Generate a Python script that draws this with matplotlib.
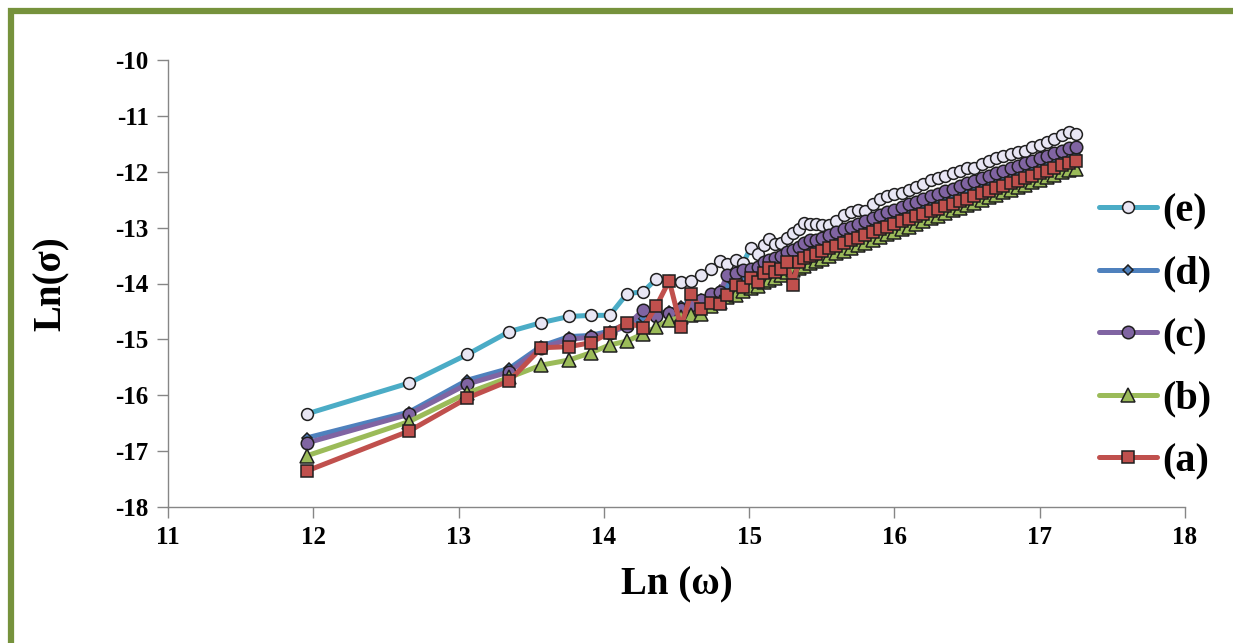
import matplotlib
matplotlib.use("Agg")
import matplotlib.pyplot as plt
from matplotlib.patches import Rectangle

# Ln(omega) values shared by all samples
ln_omega = [
    11.96, 12.66, 13.06, 13.35, 13.57, 13.76, 13.91, 14.04, 14.16, 14.27,
    14.36, 14.45, 14.53, 14.60, 14.67, 14.74, 14.80, 14.85, 14.91, 14.96,
    15.01, 15.06, 15.10, 15.14, 15.18, 15.22, 15.26, 15.30, 15.34, 15.38,
    15.42, 15.46, 15.50, 15.55, 15.60, 15.65, 15.70, 15.75, 15.80, 15.85,
    15.90, 15.95, 16.00, 16.05, 16.10, 16.15, 16.20, 16.25, 16.30, 16.35,
    16.40, 16.45, 16.50, 16.55, 16.60, 16.65, 16.70, 16.75, 16.80, 16.85,
    16.90, 16.95, 17.00, 17.05, 17.10, 17.15, 17.20, 17.25,
]

# Ln(sigma) per sample
sigma_e = [
    -16.33, -15.78, -15.27, -14.86, -14.70, -14.59, -14.57, -14.57, -14.18, -14.15,
    -13.92, -13.95, -13.97, -13.96, -13.85, -13.74, -13.60, -13.65, -13.58, -13.63,
    -13.36, -13.48, -13.31, -13.20, -13.30, -13.28, -13.18, -13.10, -13.02, -12.92,
    -12.93, -12.93, -12.95, -12.95, -12.88, -12.78, -12.72, -12.68, -12.70, -12.57,
    -12.48, -12.43, -12.40, -12.38, -12.32, -12.28, -12.22, -12.15, -12.12, -12.08,
    -12.03, -11.98, -11.94, -11.93, -11.86, -11.80, -11.76, -11.72, -11.68, -11.64,
    -11.62, -11.56, -11.52, -11.47, -11.42, -11.35, -11.28, -11.32,
]
sigma_d = [
    -16.76, -16.30, -15.73, -15.52, -15.12, -14.95, -14.93, -14.85, -14.72, -14.62,
    -14.55, -14.50, -14.40, -14.32, -14.28, -14.20, -14.12, -14.05, -13.98, -13.92,
    -13.86, -13.82, -13.76, -13.72, -13.68, -13.63, -13.58, -13.54, -13.50, -13.46,
    -13.42, -13.38, -13.34, -13.29, -13.24, -13.19, -13.14, -13.09, -13.05, -12.99,
    -12.94, -12.90, -12.84, -12.79, -12.75, -12.70, -12.66, -12.61, -12.57, -12.52,
    -12.47, -12.43, -12.38, -12.35, -12.29, -12.25, -12.20, -12.16, -12.12, -12.07,
    -12.02, -11.98, -11.93, -11.89, -11.84, -11.79, -11.74, -11.70,
]
sigma_c = [
    -16.85, -16.34, -15.80, -15.58, -15.15, -15.00, -14.96, -14.88, -14.76, -14.47,
    -14.58, -14.52, -14.45, -14.38, -14.30, -14.18, -14.15, -13.85, -13.82, -13.76,
    -13.74, -13.70, -13.62, -13.58, -13.55, -13.50, -13.44, -13.40, -13.34, -13.28,
    -13.22, -13.22, -13.18, -13.14, -13.08, -13.03, -12.98, -12.93, -12.88, -12.83,
    -12.77, -12.72, -12.68, -12.63, -12.58, -12.54, -12.49, -12.44, -12.40, -12.35,
    -12.30, -12.26, -12.21, -12.17, -12.12, -12.08, -12.03, -11.99, -11.94, -11.90,
    -11.85, -11.81, -11.76, -11.72, -11.67, -11.62, -11.57, -11.55,
]
sigma_b = [
    -17.08, -16.47, -15.96, -15.68, -15.46, -15.37, -15.24, -15.10, -15.03, -14.90,
    -14.78, -14.66, -14.60, -14.56, -14.55, -14.40, -14.34, -14.25, -14.20, -14.14,
    -14.08, -14.04, -13.98, -13.94, -13.90, -13.85, -13.80, -13.76, -13.72, -13.68,
    -13.64, -13.60, -13.56, -13.51, -13.46, -13.41, -13.36, -13.31, -13.27, -13.22,
    -13.17, -13.12, -13.07, -13.02, -12.98, -12.93, -12.88, -12.83, -12.79, -12.74,
    -12.69, -12.65, -12.60, -12.56, -12.51, -12.46, -12.42, -12.37, -12.33, -12.28,
    -12.24, -12.19, -12.15, -12.10, -12.06, -12.01, -11.97, -11.95,
]
sigma_a = [
    -17.35, -16.64, -16.05, -15.74, -15.15, -15.13, -15.06, -14.88, -14.70, -14.79,
    -14.41, -13.95, -14.78, -14.18, -14.46, -14.35, -14.37, -14.20, -14.03, -14.06,
    -13.90, -13.97, -13.81, -13.72, -13.80, -13.74, -13.62, -14.02, -13.62, -13.55,
    -13.50, -13.48, -13.42, -13.36, -13.33, -13.27, -13.22, -13.18, -13.14, -13.08,
    -13.03, -12.98, -12.94, -12.89, -12.85, -12.80, -12.75, -12.70, -12.66, -12.61,
    -12.57, -12.52, -12.48, -12.43, -12.38, -12.34, -12.29, -12.25, -12.20, -12.16,
    -12.11, -12.07, -12.02, -11.98, -11.93, -11.88, -11.84, -11.80,
]

labels = ["(e)", "(d)", "(c)", "(b)", "(a)"]
series = [sigma_e, sigma_d, sigma_c, sigma_b, sigma_a]
line_colors = ["#4bacc6", "#4f81bd", "#8064a2", "#9bbb59", "#c0504d"]
face_colors = ["#e8e6f4", "#4f81bd", "#8064a2", "#9bbb59", "#c0504d"]
markers = ["o", "D", "o", "^", "s"]
msizes = [8.5, 5, 9, 9.5, 8.5]

x_ticks = [11, 12, 13, 14, 15, 16, 17, 18]
y_ticks = [-18, -17, -16, -15, -14, -13, -12, -11, -10]

plt.rcParams["font.family"] = ["Liberation Serif", "DejaVu Serif"]
plt.rcParams["font.weight"] = "bold"
plt.rcParams["axes.unicode_minus"] = False

fig = plt.figure(figsize=(12.33, 6.43), dpi=100)
fig.patch.set_facecolor("white")
ax = fig.add_axes([168 / 1233, 1 - 507 / 643, (1185 - 168) / 1233, (507 - 60) / 643])

for ys, lab, lc, fc, mk, ms in zip(series, labels, line_colors, face_colors, markers, msizes):
    ax.plot(ln_omega, ys, color=lc, lw=3.6, marker=mk, ms=ms,
            markerfacecolor=fc, markeredgecolor="#1f1f1f", markeredgewidth=1.1,
            label=lab, solid_capstyle="round", solid_joinstyle="round")

ax.set_xlim(11, 18)
ax.set_ylim(-18, -10)
ax.set_xticks(x_ticks)
ax.set_yticks(y_ticks)
ax.tick_params(axis="both", direction="out", length=8, width=1, color="#868686",
               labelsize=18, pad=6)
for lab in ax.get_xticklabels() + ax.get_yticklabels():
    lab.set_fontweight("bold")
for side in ("top", "right"):
    ax.spines[side].set_visible(False)
for side in ("left", "bottom"):
    ax.spines[side].set_color("#868686")
    ax.spines[side].set_linewidth(1.0)

ax.set_xlabel("Ln (ω)", fontsize=28, fontweight="bold", labelpad=12)
ax.set_ylabel("Ln(σ)", fontsize=28, fontweight="bold", labelpad=33)

leg = ax.legend(loc="upper left", bbox_to_anchor=(1099 / 1233, 1 - 193 / 643),
                bbox_transform=fig.transFigure, frameon=False,
                prop={"size": 29, "weight": "bold"}, handlelength=1.45,
                handletextpad=0.12, labelspacing=0.63, borderpad=0, borderaxespad=0)

# olive frame around the figure
fig.add_artist(Rectangle((10.5 / 1233, -0.2), 1.3, (643 - 11) / 643 + 0.2,
                         transform=fig.transFigure, fill=False,
                         edgecolor="#76923c", linewidth=4.5, zorder=10))

fig.savefig("out.png", dpi=100, facecolor=fig.get_facecolor())
